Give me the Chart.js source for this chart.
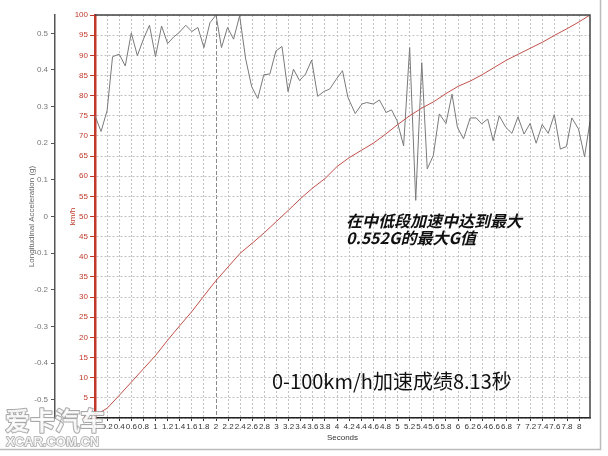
<!DOCTYPE html>
<html>
<head>
<meta charset="utf-8">
<script src="https://cdn.jsdelivr.net/npm/chart.js@4/dist/chart.umd.min.js"></script>
<style>
html,body{margin:0;padding:0;background:#fff;}
#wrap{width:608px;height:456px;position:relative;}
</style>
</head>
<body>
<div id="wrap"><canvas id="c" width="608" height="456"></canvas></div>
<script>
// ---- data ----
const xTickValues = [0,0.2,0.4,0.6,0.8,1,1.2,1.4,1.6,1.8,2,2.2,2.4,2.6,2.8,3,3.2,3.4,3.6,3.8,4,4.2,4.4,4.6,4.8,5,5.2,5.4,5.6,5.8,6,6.2,6.4,6.6,6.8,7,7.2,7.4,7.6,7.8,8];
const kmhTickValues = [0,5,10,15,20,25,30,35,40,45,50,55,60,65,70,75,80,85,90,95,100];
const gTickValues = [-0.5,-0.4,-0.3,-0.2,-0.1,0,0.1,0.2,0.3,0.4,0.5];

const speedTime = [0,0.2,0.4,0.6,0.8,1.0,1.2,1.4,1.6,1.8,2.0,2.2,2.4,2.6,2.8,3.0,3.2,3.4,3.6,3.8,4.0,4.2,4.4,4.6,4.8,5.0,5.2,5.4,5.6,5.8,6.0,6.2,6.4,6.6,6.8,7.0,7.2,7.4,7.6,7.8,8.0,8.18];
const speedKmh = [0.7,2.4,5.6,8.9,12.2,15.5,19.3,22.9,26.4,30.3,34.1,37.5,40.9,43.4,46.0,48.8,51.6,54.5,57.1,59.4,62.4,64.6,66.4,68.2,70.4,72.8,75.0,76.9,78.5,80.5,82.3,83.6,85.2,87.0,88.8,90.3,91.8,93.3,95.0,96.6,98.3,100];

const accTime = [0.00,0.10,0.20,0.29,0.40,0.50,0.60,0.70,0.80,0.90,1.00,1.10,1.20,1.30,1.39,1.50,1.60,1.70,1.80,1.90,2.00,2.09,2.19,2.29,2.39,2.49,2.59,2.69,2.79,2.89,2.99,3.09,3.19,3.28,3.38,3.48,3.58,3.68,3.78,3.88,3.98,4.09,4.18,4.30,4.41,4.49,4.60,4.70,4.81,4.90,4.99,5.10,5.20,5.30,5.40,5.49,5.59,5.69,5.80,5.90,5.99,6.09,6.20,6.30,6.39,6.49,6.58,6.68,6.79,6.89,6.99,7.09,7.19,7.29,7.39,7.49,7.59,7.69,7.79,7.88,7.99,8.09,8.18];
const accG = [0.275,0.232,0.289,0.436,0.443,0.411,0.501,0.439,0.484,0.522,0.436,0.520,0.472,0.490,0.502,0.522,0.505,0.516,0.461,0.529,0.550,0.461,0.516,0.484,0.548,0.430,0.354,0.322,0.387,0.389,0.452,0.464,0.341,0.402,0.371,0.389,0.427,0.328,0.341,0.348,0.373,0.398,0.325,0.281,0.307,0.311,0.307,0.318,0.284,0.291,0.262,0.193,0.461,0.044,0.420,0.130,0.166,0.280,0.254,0.334,0.243,0.212,0.269,0.269,0.253,0.266,0.207,0.275,0.243,0.227,0.272,0.225,0.254,0.200,0.251,0.227,0.278,0.184,0.191,0.269,0.239,0.163,0.260];

const xTitle = 'Seconds';
const kmhTitle = 'km/h';
const gTitle = 'Longitudinal Acceleration (g)';
const note1a = '在中低段加速中达到最大';
const note1b = '0.552G的最大G值';
const note2 = '0-100km/h加速成绩8.13秒';
const wm1 = '爱卡汽车';
const wm2 = 'XCAR.COM.CN';

Chart.defaults.font.family = "'Liberation Sans', Arial, sans-serif";

const RED = '#c0392b';

const extras = {
  id: 'extras',
  afterDatasetsDraw(chart) {
    const {ctx, chartArea: a} = chart;
    ctx.save();
    ctx.strokeStyle = '#444';
    ctx.lineWidth = 1.5;
    ctx.beginPath();
    ctx.moveTo(a.left, a.top);
    ctx.lineTo(a.right, a.top);
    ctx.lineTo(a.right, a.bottom);
    ctx.stroke();
    ctx.restore();
  },
  afterDraw(chart) {
    const ctx = chart.ctx;
    ctx.save();
    // annotations
    ctx.fillStyle = '#111';
    ctx.textBaseline = 'middle';
    ctx.textAlign = 'left';
    ctx.font = 'italic bold 16px "Noto Sans CJK SC"';
    ctx.fillText(note1a, 346, 221);
    ctx.fillText(note1b, 346, 238);
    ctx.font = '20px "Noto Sans CJK SC"';
    ctx.fillText(note2, 272, 381);
    // frame of the picture
    ctx.strokeStyle = '#bbb';
    ctx.lineWidth = 1.5;
    ctx.beginPath();
    ctx.moveTo(600.5, 0);
    ctx.lineTo(600.5, 449.5);
    ctx.lineTo(0, 449.5);
    ctx.stroke();
    // watermark
    ctx.globalAlpha = 0.85;
    ctx.lineJoin = 'round';
    ctx.font = 'bold 25px "Noto Sans CJK SC"';
    ctx.strokeStyle = '#999';
    ctx.lineWidth = 2;
    ctx.fillStyle = '#fff';
    ctx.strokeText(wm1, 5, 420);
    ctx.fillText(wm1, 5, 420);
    ctx.font = 'bold 13px "Liberation Sans"';
    ctx.lineWidth = 1.5;
    ctx.strokeText(wm2, 6, 442);
    ctx.fillText(wm2, 6, 442);
    ctx.restore();
  }
};

new Chart(document.getElementById('c'), {
  type: 'line',
  data: {
    datasets: [
      {
        label: 'Speed',
        data: speedTime.map((t, i) => ({x: t, y: speedKmh[i]})),
        yAxisID: 'kmh',
        borderColor: '#c2504a',
        borderWidth: 1,
        pointRadius: 0,
        tension: 0
      },
      {
        label: 'Acceleration',
        data: accTime.map((t, i) => ({x: t, y: accG[i]})),
        yAxisID: 'g',
        borderColor: '#7a7a7a',
        borderWidth: 1,
        pointRadius: 0,
        tension: 0
      }
    ]
  },
  options: {
    responsive: false,
    animation: false,
    events: [],
    layout: {padding: {left: 0, top: 15, right: 18, bottom: 10}},
    plugins: {legend: {display: false}, tooltip: {enabled: false}},
    scales: {
      x: {
        type: 'linear', position: 'bottom', min: 0, max: 8.18,
        afterBuildTicks: s => { s.ticks = xTickValues.map(v => ({value: v})); },
        afterFit: s => { s.height = 28; },
        ticks: {autoSkip: false, maxRotation: 0, minRotation: 0, font: {size: 8}, color: '#333', padding: 1, callback: v => String(v)},
        grid: {
          color: c => (c.tick && c.tick.value === 2) ? '#8a8a8a' : '#c2c2c2',
          lineWidth: 1, tickLength: 3, tickColor: '#333'
        },
        border: {color: '#222', width: 1.5, dash: c => (c.tick && c.tick.value === 2) ? [4, 2] : [2, 2]},
        title: {display: true, text: xTitle, font: {size: 8}, color: '#333', padding: {top: 0, bottom: 3}}
      },
      kmh: {
        type: 'linear', position: 'left', weight: 0, min: 0, max: 100,
        afterBuildTicks: s => { s.ticks = kmhTickValues.map(v => ({value: v})); },
        afterFit: s => { s.width = 40; },
        ticks: {autoSkip: false, font: {size: 8}, color: RED, padding: 2, callback: v => String(v)},
        grid: {color: '#c2c2c2', lineWidth: 1, tickLength: 5, tickColor: RED},
        border: {color: RED, width: 2.5, dash: [2, 2]},
        title: {display: true, text: kmhTitle, color: RED, font: {size: 8}, padding: {top: 13, bottom: 0}}
      },
      g: {
        type: 'linear', position: 'left', weight: 1, min: -0.55, max: 0.55,
        afterBuildTicks: s => { s.ticks = gTickValues.map(v => ({value: v})); },
        afterFit: s => { s.width = 55; },
        ticks: {autoSkip: false, font: {size: 8}, color: '#777', padding: 3, callback: v => String(v)},
        grid: {drawOnChartArea: false, tickLength: 4, tickColor: '#555'},
        border: {color: '#555', width: 1.5},
        title: {display: true, text: gTitle, color: '#666', font: {size: 8}, padding: {top: 27, bottom: 0}}
      }
    }
  },
  plugins: [extras]
});
</script>
</body>
</html>
